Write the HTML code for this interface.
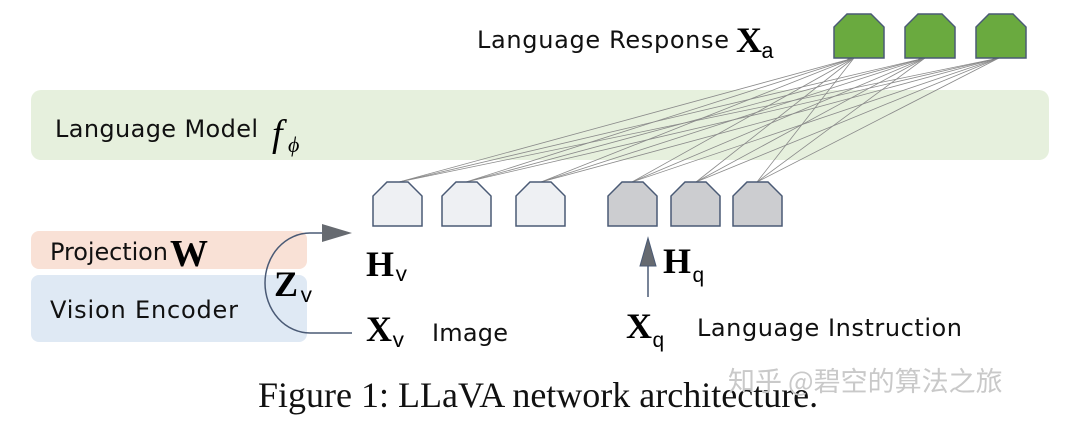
<!DOCTYPE html>
<html><head><meta charset="utf-8"><style>
body{margin:0;background:#fff;width:1080px;height:424px;overflow:hidden}
.s{font-family:"DejaVu Sans","Liberation Sans",sans-serif;fill:#111}
.m{font-family:"Liberation Serif",serif;font-weight:bold}
.t{font-family:"Liberation Mono",monospace}
</style></head><body>
<svg width="1080" height="424" viewBox="0 0 1080 424" xmlns="http://www.w3.org/2000/svg">
<rect x="31" y="90" width="1018" height="70" rx="10" fill="#e6f0dd"/>
<rect x="31" y="231" width="276" height="38" rx="8" fill="#f9e1d6"/>
<rect x="31" y="275" width="276" height="67" rx="8" fill="#dfe9f4"/>
<text x="55" y="137" font-size="24" class="s" textLength="203">Language Model</text>
<text x="272" y="146" font-size="38" font-style="italic" style="font-family:'Liberation Serif',serif">f</text>
<text x="288" y="152" font-size="22" font-style="italic" style="font-family:'Liberation Serif',serif">ϕ</text>
<text x="477" y="48" font-size="24" class="s" textLength="252">Language Response</text>
<text x="736" y="52" font-size="36" class="m">X</text><text x="761" y="58" font-size="22" class="t">a</text>
<text x="50" y="260" font-size="24" class="s" textLength="118">Projection</text>
<text x="170" y="266" font-size="38" class="m">W</text>
<text x="50" y="318" font-size="24" class="s" textLength="188">Vision Encoder</text>
<g stroke="#8a8a8a" stroke-width="0.8">
<line x1="399" y1="182" x2="854" y2="58"/><line x1="399" y1="182" x2="925" y2="58"/><line x1="399" y1="182" x2="999" y2="58"/>
<line x1="466" y1="182" x2="854" y2="58"/><line x1="466" y1="182" x2="925" y2="58"/><line x1="466" y1="182" x2="999" y2="58"/>
<line x1="541" y1="182" x2="854" y2="58"/><line x1="541" y1="182" x2="925" y2="58"/><line x1="541" y1="182" x2="999" y2="58"/>
<line x1="632" y1="182" x2="854" y2="58"/><line x1="632" y1="182" x2="925" y2="58"/><line x1="632" y1="182" x2="999" y2="58"/>
<line x1="696" y1="182" x2="854" y2="58"/><line x1="696" y1="182" x2="925" y2="58"/><line x1="696" y1="182" x2="999" y2="58"/>
<line x1="757" y1="182" x2="854" y2="58"/><line x1="757" y1="182" x2="925" y2="58"/><line x1="757" y1="182" x2="999" y2="58"/>
</g>
<g fill="#7a7a7a"><path d="M854 58 l-7 2 l4 -9z"/><path d="M925 58 l-7 2 l4 -9z"/><path d="M999 58 l-7 2 l4 -9z"/></g>
<g stroke="#4a5a75" stroke-width="1.5">
<g fill="#6aaa3f">
<path d="M834 58 V27 L847 14 H871 L884 27 V58 Z"/>
<path d="M905 58 V27 L918 14 H942 L955 27 V58 Z"/>
<path d="M976 58 V27 L989 14 H1013 L1026 27 V58 Z"/>
</g>
<g fill="#eef0f3">
<path d="M373 226 V196 L387 182 H408 L422 196 V226 Z"/>
<path d="M442 226 V196 L456 182 H477 L491 196 V226 Z"/>
<path d="M516 226 V196 L530 182 H551 L565 196 V226 Z"/>
</g>
<g fill="#cccdd0">
<path d="M608 226 V196 L622 182 H643 L657 196 V226 Z"/>
<path d="M671 226 V196 L685 182 H706 L720 196 V226 Z"/>
<path d="M733 226 V196 L747 182 H768 L782 196 V226 Z"/>
</g>
</g>
<path d="M352 333 H310 A45 50 0 0 1 310 233 H325" fill="none" stroke="#4a5a75" stroke-width="1.5"/>
<path d="M322 224 L352 233 L322 242 Z" fill="#666a70"/>
<line x1="648" y1="297" x2="648" y2="262" stroke="#4a5a75" stroke-width="1.5"/>
<path d="M640 266 L648 238 L656 266 Z" fill="#666a70" stroke="#4a5a75"/>
<text x="274" y="296" font-size="36" class="m">Z</text><text x="300" y="302" font-size="21" class="t">v</text>
<text x="366" y="276" font-size="36" class="m">H</text><text x="395" y="281" font-size="21" class="t">v</text>
<text x="366" y="341" font-size="36" class="m">X</text><text x="392" y="347" font-size="21" class="t">v</text>
<text x="432" y="341" font-size="24" class="s" textLength="76">Image</text>
<text x="663" y="273" font-size="36" class="m">H</text><text x="692" y="282" font-size="21" class="t">q</text>
<text x="626" y="338" font-size="36" class="m">X</text><text x="652" y="347" font-size="21" class="t">q</text>
<text x="697" y="336" font-size="24" class="s" textLength="265">Language Instruction</text>
<text x="258" y="407" font-size="36" style="font-family:'Liberation Serif',serif" fill="#111">Figure 1: LLaVA network architecture.</text>
<text x="728" y="391" font-size="27" fill="#c9c9c9" style="font-family:'Noto Sans CJK SC',sans-serif">知乎 @碧空的算法之旅</text>
</svg>
</body></html>
